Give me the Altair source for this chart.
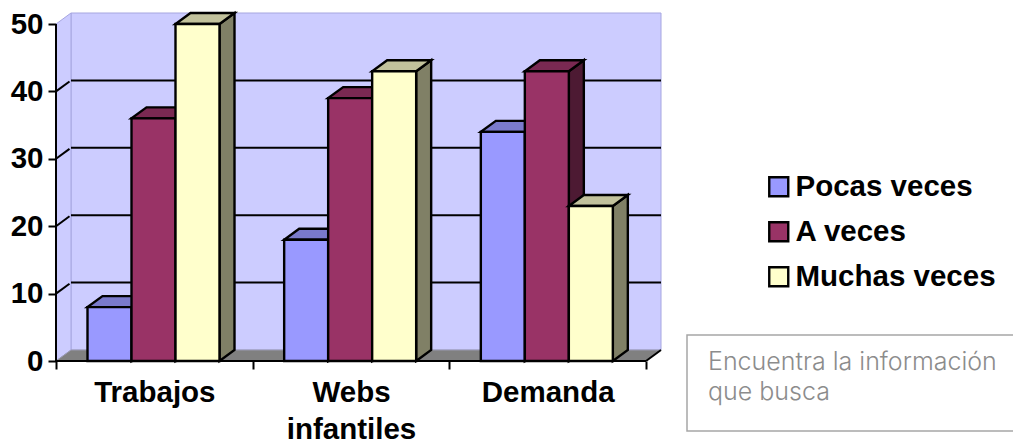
import altair as alt
import pandas as pd

categories = ["Trabajos", "Webs\ninfantiles", "Demanda"]
series = ["Pocas veces", "A veces", "Muchas veces"]
values = {
    "Pocas veces": [8, 18, 34],
    "A veces": [36, 39, 43],
    "Muchas veces": [50, 43, 23],
}
front_colors = ["#9999FF", "#993366", "#FFFFCC"]
top_colors = ["#7A7ACC", "#7A2952", "#C2C29C"]
side_colors = ["#7373BF", "#4D1A33", "#808066"]
y_ticks = [0, 10, 20, 30, 40, 50]
grid_values = [10, 20, 30, 40]
note_lines = ["Encuentra la información", "que busca"]

FONT = "Liberation Sans"
SIZE = 29.5
DX = 15 / 196.67   # depth in category units
DY = 11 / 6.74     # depth in value units
GAP = 31.5 / 196.67
BW = 44 / 196.67
NC = len(categories)
YMAX = 50
EDGE = "#A6A6E0"
BAR_LINE = 2.4

x_values = [0, 0.5, 1, 1.5, 2, 2.5, 3]
expr = "''"
for i, c in reversed(list(enumerate(categories))):
    parts = c.split("\n")
    lit = "[" + ",".join("'" + p + "'" for p in parts) + "]" if len(parts) > 1 else "'" + c + "'"
    expr = f"datum.value=={i + 0.5}?{lit}:({expr})"

x_axis = alt.Axis(
    values=x_values, title=None, domain=False, grid=False, labelExpr=expr,
    tickSize=8, tickWidth=2, tickColor="black",
    tickOpacity={"condition": {"test": "datum.value % 1 != 0", "value": 0}, "value": 1},
    labelFont=FONT, labelFontSize=SIZE, labelFontWeight="bold", labelColor="black",
    labelPadding=9, labelOverlap=False, labelLineHeight=37, labelBound=False, labelFlush=False,
)
y_axis = alt.Axis(
    values=y_ticks, title=None, domain=False, grid=False,
    tickSize=8, tickWidth=2, tickColor="black",
    labelFont=FONT, labelFontSize=SIZE, labelFontWeight="bold", labelColor="black",
    labelPadding=5, labelOverlap=False, labelBound=False, labelFlush=False,
)
x_scale = alt.Scale(domain=[0, NC + DX], nice=False, zero=False)
y_scale = alt.Scale(domain=[0, YMAX + DY], nice=False, zero=False)
X = alt.X("x:Q", scale=x_scale, axis=x_axis)
Y = alt.Y("y:Q", scale=y_scale, axis=y_axis)
fill_scale = alt.Scale(domain=series, range=front_colors)


def poly(rows, fill, stroke, sw):
    return alt.Chart(pd.DataFrame(rows)).mark_area(
        orient="vertical", fill=fill, stroke=stroke, strokeWidth=sw, opacity=1, strokeJoin="miter"
    ).encode(x=X, y=Y, y2="y2:Q", detail="k:N")


def rules(rows, color, sw):
    return alt.Chart(pd.DataFrame(rows)).mark_rule(color=color, strokeWidth=sw).encode(
        x=X, x2="x2:Q", y=Y, y2="y2:Q", detail="k:N"
    )


layers = []
# back wall
layers.append(
    alt.Chart(pd.DataFrame([{"x": DX, "x2": NC + DX, "y": DY, "y2": YMAX + DY}]))
    .mark_rect(fill="#CCCCFF", stroke=EDGE, strokeWidth=1)
    .encode(x=X, x2="x2:Q", y=Y, y2="y2:Q")
)
# left wall
layers.append(poly(
    [{"k": "w", "x": 0, "y": 0, "y2": YMAX}, {"k": "w", "x": DX, "y": DY, "y2": YMAX + DY}],
    "#CCCCFF", EDGE, 1))
# floor
layers.append(poly(
    [{"k": "f", "x": 0, "y": 0, "y2": 0}, {"k": "f", "x": DX, "y": 0, "y2": DY},
     {"k": "f", "x": NC, "y": 0, "y2": DY}, {"k": "f", "x": NC + DX, "y": DY, "y2": DY}],
    "#808080", "#9A9AB0", 1))
# gridlines on wall
grid_rows = []
for v in grid_values:
    grid_rows.append({"k": f"g{v}", "x": DX, "x2": NC + DX, "y": v + DY, "y2": v + DY})
    grid_rows.append({"k": f"d{v}", "x": 0, "x2": DX * 0.9, "y": v, "y2": v + DY * 0.9})
layers.append(rules(grid_rows, "black", 2))
# axis lines
layers.append(rules([
    {"k": "ya", "x": 0, "x2": 0, "y": 0, "y2": YMAX},
    {"k": "xa", "x": 0, "x2": NC, "y": 0, "y2": 0},
    {"k": "fd", "x": NC, "x2": NC + DX, "y": 0, "y2": DY},
], "black", 2))

# bars, series by series so that later series cover earlier ones
for s_i, s in enumerate(series):
    side, top, front = [], [], []
    for c_i, v in enumerate(values[s]):
        x0 = c_i + GAP + s_i * BW
        x1 = x0 + BW
        k = f"{s_i}-{c_i}"
        side += [{"k": k, "x": x1, "y": 0, "y2": v}, {"k": k, "x": x1 + DX, "y": DY, "y2": v + DY}]
        top += [{"k": k, "x": x0, "y": v, "y2": v}, {"k": k, "x": x0 + DX, "y": v, "y2": v + DY},
                {"k": k, "x": x1, "y": v, "y2": v + DY}, {"k": k, "x": x1 + DX, "y": v + DY, "y2": v + DY}]
        front.append({"s": s, "x": x0, "x2": x1, "y": 0, "y2": v})
    layers.append(poly(side, side_colors[s_i], "black", BAR_LINE))
    layers.append(poly(top, top_colors[s_i], "black", BAR_LINE))
    layers.append(
        alt.Chart(pd.DataFrame(front)).mark_rect(stroke="black", strokeWidth=BAR_LINE, opacity=1).encode(
            x=X, x2="x2:Q", y=Y, y2="y2:Q",
            fill=alt.Fill("s:N", scale=fill_scale, legend=alt.Legend(
                title=None, orient="none", legendX=764 - 56, legendY=172 - 13,
                symbolType="square", symbolSize=361, symbolStrokeColor="black", symbolStrokeWidth=2.4,
                symbolOpacity=1, labelFont=FONT, labelFontSize=SIZE, labelFontWeight="bold",
                labelColor="black", labelOffset=2, rowPadding=14, labelLimit=300, padding=0,
            )),
        )
    )

# note box
note_df = pd.DataFrame([{"t": "\n".join(note_lines)}])
layers.append(
    alt.Chart(note_df).mark_rect(fill="white", stroke="#A6A6A6", strokeWidth=1.5, clip=False).encode(
        x=alt.value(631), x2=alt.value(1000), y=alt.value(322), y2=alt.value(418)
    )
)
layers.append(
    alt.Chart(note_df).mark_text(
        align="left", baseline="alphabetic", font="Inter", fontSize=25, fontWeight=300, color="#8C8C8C",
        lineBreak="\n", lineHeight=30,
    ).encode(x=alt.value(652), y=alt.value(357), text="t:N")
)

chart = alt.layer(*layers).properties(
    width=605, height=348,
    autosize=alt.AutoSizeParams(type="none"),
    padding={"left": 48, "top": 5, "right": 352, "bottom": 82},
    background="white",
).configure_view(stroke=None)

chart.save("out.html", embed_options={"renderer": "svg", "actions": False})
